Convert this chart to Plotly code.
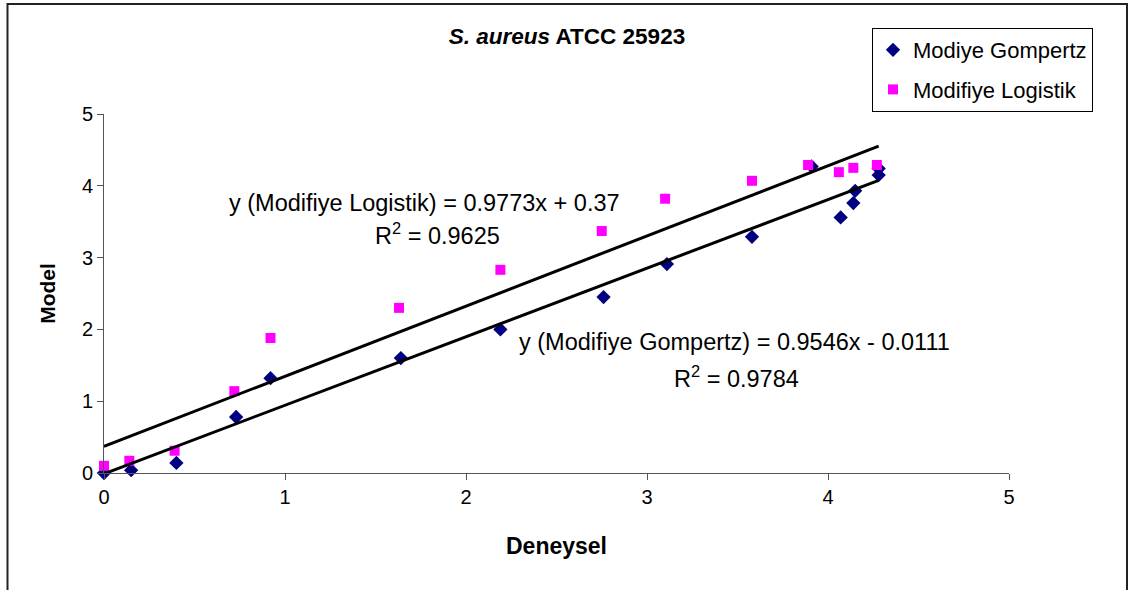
import plotly.graph_objects as go

# Measured vs. modelled values for the two growth models
gompertz_x = [0.00, 0.15, 0.40, 0.73, 0.92, 1.64, 2.19, 2.76, 3.11, 3.58, 3.91, 4.07, 4.14, 4.15, 4.28, 4.28]
gompertz_y = [0.00, 0.04, 0.14, 0.78, 1.32, 1.60, 2.00, 2.45, 2.91, 3.29, 4.27, 3.56, 3.76, 3.93, 4.24, 4.15]

logistik_x = [0.00, 0.14, 0.39, 0.72, 0.92, 1.63, 2.19, 2.75, 3.10, 3.58, 3.89, 4.06, 4.14, 4.27]
logistik_y = [0.10, 0.17, 0.31, 1.14, 1.88, 2.30, 2.83, 3.37, 3.82, 4.07, 4.29, 4.19, 4.25, 4.29]

# Linear trend lines (slope, intercept, R^2)
gompertz_fit = (0.9546, -0.0111, 0.9784)
logistik_fit = (0.9773, 0.37, 0.9625)
fit_range = [0.0, 4.28]

axis_ticks = [0, 1, 2, 3, 4, 5]

FONT = "Liberation Sans, Arial, sans-serif"
NAVY = "#000080"
MAGENTA = "#FF00FF"

W, H = 1134, 590
L, R, T, B = 104, 125, 114, 117
PW, PH = W - L - R, H - T - B


def px_to_paper(px, py):
    return (px - L) / PW, (H - B - py) / PH


fig = go.Figure()

fig.add_trace(go.Scatter(
    x=gompertz_x, y=gompertz_y, mode="markers", name="Modiye Gompertz",
    legendgroup="g",
    marker=dict(symbol="diamond", size=11, color=NAVY),
    cliponaxis=False,
))
fig.add_trace(go.Scatter(
    x=logistik_x, y=logistik_y, mode="markers", name="Modifiye Logistik",
    legendgroup="l",
    marker=dict(symbol="square", size=10, color=MAGENTA),
    cliponaxis=False,
))

for slope, intercept, _ in (logistik_fit, gompertz_fit):
    fig.add_trace(go.Scatter(
        x=fit_range, y=[slope * v + intercept for v in fit_range],
        mode="lines", line=dict(color="black", width=3),
        showlegend=False, hoverinfo="skip", cliponaxis=False,
    ))


def eq_text(label, fit):
    slope, intercept, _ = fit
    sign = "+" if intercept >= 0 else "-"
    return f"y ({label}) = {slope:.4f}x {sign} {abs(intercept):g}"


annotations = [
    dict(x=1.768, y=3.76, text=eq_text("Modifiye Logistik", logistik_fit)),
    dict(x=1.84, y=3.33, text=f"R<sup>2</sup> = {logistik_fit[2]:.4f}"),
    dict(x=3.486, y=1.825, text=eq_text("Modifiye Gompertz", gompertz_fit)),
    dict(x=3.497, y=1.337, text=f"R<sup>2</sup> = {gompertz_fit[2]:.4f}"),
]
for a in annotations:
    a.update(xref="x", yref="y", showarrow=False, xanchor="center", yanchor="middle",
             font=dict(family=FONT, size=23.5, color="black"))

# outer chart frame
x0, y0 = px_to_paper(7.5, 4)
x1, y1 = px_to_paper(1127, 620)
shapes = [dict(type="rect", xref="paper", yref="paper", x0=x0, y0=y1, x1=x1, y1=y0,
               line=dict(color="#222222", width=2), fillcolor="rgba(0,0,0,0)")]

lx, ly = px_to_paper(872, 28)

axis_common = dict(
    range=[0, 5], tickvals=axis_ticks, showgrid=False, zeroline=False,
    showline=True, linecolor="#555555", linewidth=1,
    ticks="outside", ticklen=6, tickcolor="#555555",
    tickfont=dict(family=FONT, size=20, color="black"),
)

fig.update_layout(
    width=W, height=H, autosize=False,
    margin=dict(l=L, r=R, t=T, b=B),
    paper_bgcolor="white", plot_bgcolor="white",
    title=dict(text="<b><i>S. aureus</i> ATCC 25923</b>", x=0.5, xref="container",
               y=1 - 36 / H, yref="container", xanchor="center", yanchor="middle",
               font=dict(family=FONT, size=22.5, color="black")),
    xaxis=dict(axis_common,
               title=dict(text="<b>Deneysel</b>", standoff=30,
                          font=dict(family=FONT, size=23, color="black"))),
    yaxis=dict(axis_common,
               title=dict(text="<b>Model</b>", standoff=20,
                          font=dict(family=FONT, size=21, color="black"))),
    legend=dict(x=lx, y=ly, xanchor="left", yanchor="top",
                bordercolor="black", borderwidth=1, bgcolor="white",
                tracegroupgap=8,
                font=dict(family=FONT, size=22, color="black")),
    annotations=annotations,
    shapes=shapes,
)

fig.write_html("out.html")
